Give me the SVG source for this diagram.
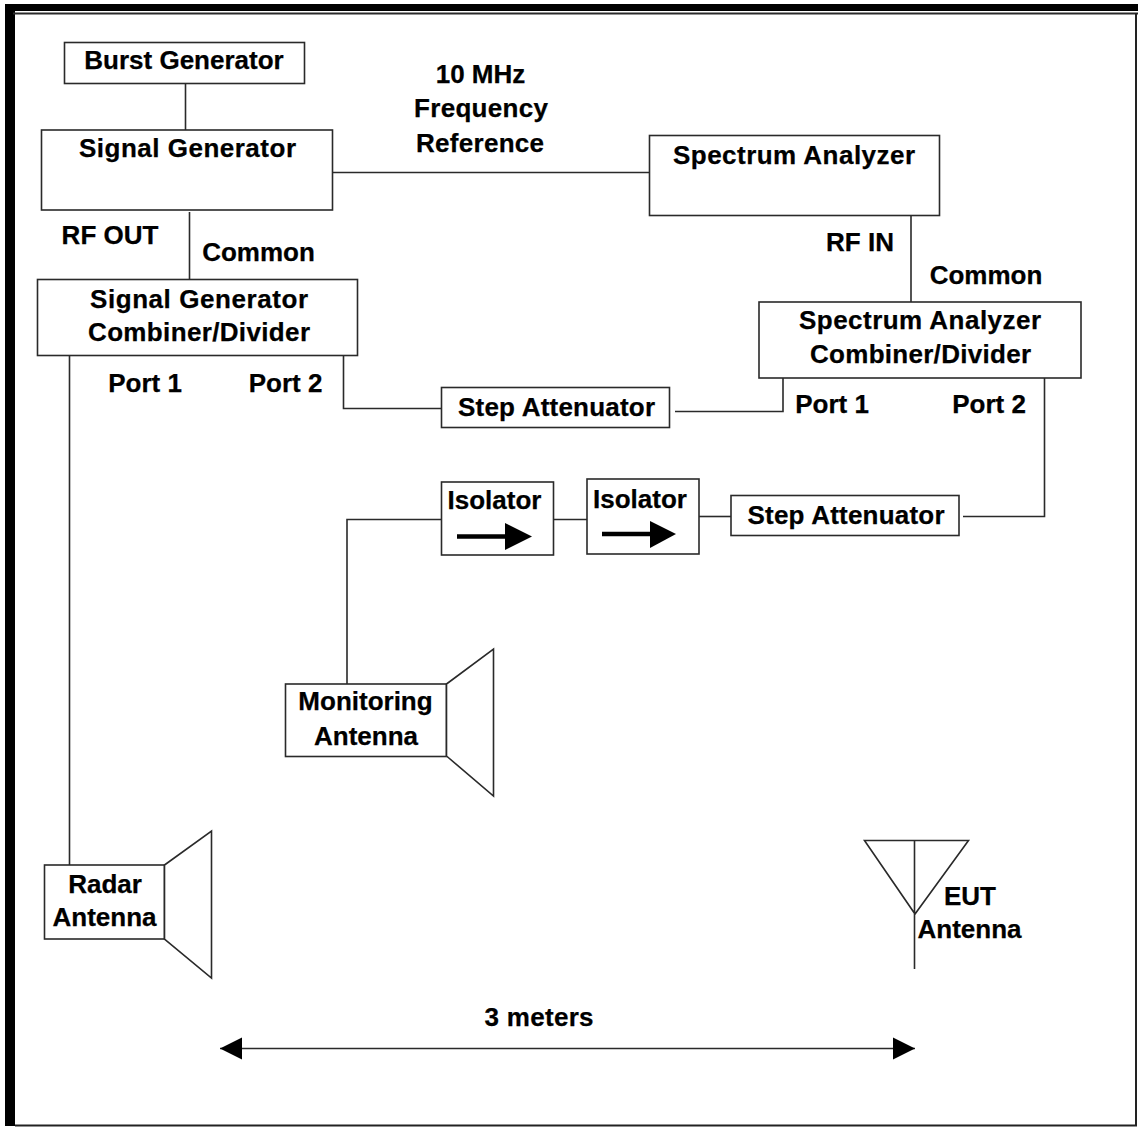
<svg xmlns="http://www.w3.org/2000/svg" width="1138" height="1129" viewBox="0 0 1138 1129">
<style>
.b{fill:#fff;stroke:#2a2a2a;stroke-width:1.6}
.c{fill:none;stroke:#2a2a2a;stroke-width:1.6}
text{font-family:"Liberation Sans",Arial,sans-serif;font-weight:bold;font-size:26px;fill:#000;text-anchor:middle;stroke:#000;stroke-width:.25}
</style>
<defs>
<marker id="ah" markerUnits="userSpaceOnUse" markerWidth="24" markerHeight="24" refX="22" refY="12" orient="auto-start-reverse"><path d="M0 1L22 12L0 23Z" fill="#000"/></marker>
</defs>
<rect width="1138" height="1129" fill="#fff"/>
<g id="frame">
<rect x="5" y="4" width="1133" height="7" fill="#000"/>
<rect x="5" y="4" width="10" height="1122" fill="#000"/>
<path class="c" d="M13 13.500H1138" style="stroke-width:2"/>
<path class="c" d="M15 1125.500H1136V13" style="stroke:#222;stroke-width:2"/>
</g>
<g id="connectors">
<path class="c" d="M185.500 83V131"/>
<path class="c" d="M333 172.500H650"/>
<path class="c" d="M189.500 212V279"/>
<path class="c" d="M911 216V302"/>
<path class="c" d="M343.500 356V408.500H442"/>
<path class="c" d="M675 411.500H783V378"/>
<path class="c" d="M69.500 356V865"/>
<path class="c" d="M1044.500 378V516.500H963"/>
<path class="c" d="M731 516.500H699"/>
<path class="c" d="M587 519.500H554"/>
<path class="c" d="M442 519.500H347V684"/>
<path class="c" d="M220 1048.500H915" marker-start="url(#ah)" marker-end="url(#ah)"/>
</g>
<g id="burst-generator"><rect class="b" x="64.500" y="42.500" width="240" height="41"/><text x="184" y="69">Burst Generator</text></g>
<g id="signal-generator"><rect class="b" x="41.500" y="130" width="291" height="80"/><text x="187.500" y="157" textLength="217" lengthAdjust="spacing">Signal Generator</text></g>
<g id="spectrum-analyzer"><rect class="b" x="649.500" y="135.500" width="290" height="80"/><text x="794" y="164" textLength="242" lengthAdjust="spacing">Spectrum Analyzer</text></g>
<g id="sg-combiner"><rect class="b" x="37.500" y="279.500" width="320" height="76"/><text x="199" y="308" textLength="218" lengthAdjust="spacing">Signal Generator</text><text x="199" y="341" textLength="222" lengthAdjust="spacing">Combiner/Divider</text></g>
<g id="sa-combiner"><rect class="b" x="759" y="302" width="322" height="76"/><text x="920" y="329" textLength="242" lengthAdjust="spacing">Spectrum Analyzer</text><text x="920.500" y="363" textLength="221" lengthAdjust="spacing">Combiner/Divider</text></g>
<g id="step-attenuator-1"><rect class="b" x="441.500" y="387.500" width="228" height="40"/><text x="556.500" y="415.500" textLength="197" lengthAdjust="spacing">Step Attenuator</text></g>
<g id="step-attenuator-2"><rect class="b" x="731" y="495.500" width="228" height="40"/><text x="846" y="523.500" textLength="197" lengthAdjust="spacing">Step Attenuator</text></g>
<g id="isolator-1"><rect class="b" x="441.500" y="482" width="112" height="73"/><text x="494.500" y="509">Isolator</text><path d="M457 536.500H506" stroke="#000" stroke-width="4.500" fill="none"/><path d="M505 523L532 536.500L505 550Z" fill="#000"/></g>
<g id="isolator-2"><rect class="b" x="587" y="479" width="112" height="75"/><text x="640" y="508">Isolator</text><path d="M602 534H651" stroke="#000" stroke-width="4.500" fill="none"/><path d="M650 521L676 534L650 548Z" fill="#000"/></g>
<g id="monitoring-antenna"><rect class="b" x="285.500" y="684" width="161" height="72.500"/><path class="b" d="M446.500 684L493.500 649V796L446.500 756Z"/><text x="365.500" y="710">Monitoring</text><text x="366" y="745">Antenna</text></g>
<g id="radar-antenna"><rect class="b" x="44.500" y="865" width="120" height="74"/><path class="b" d="M164.500 865L211.500 831V978L164.500 939Z"/><text x="105" y="893">Radar</text><text x="104.500" y="926">Antenna</text></g>
<g id="eut-antenna"><path class="c" d="M864.500 840.500H968.500L915 914ZM914.500 840V969"/><text x="970" y="904.500">EUT</text><text x="969.500" y="938">Antenna</text></g>
<g id="labels">
<text x="480.500" y="83">10 MHz</text><text x="481" y="117" textLength="134" lengthAdjust="spacing">Frequency</text><text x="480" y="152" textLength="128" lengthAdjust="spacing">Reference</text>
<text x="110" y="244">RF OUT</text><text x="258.500" y="261">Common</text>
<text x="860" y="251">RF IN</text><text x="986" y="283.500">Common</text>
<text x="145" y="392">Port 1</text><text x="285.500" y="392">Port 2</text>
<text x="832" y="413">Port 1</text><text x="989" y="413">Port 2</text>
<text x="539" y="1026" textLength="109" lengthAdjust="spacing">3 meters</text>
</g>
</svg>
